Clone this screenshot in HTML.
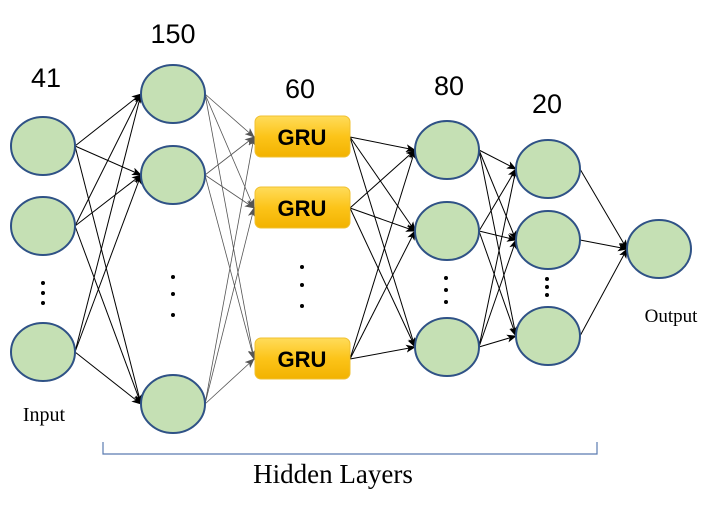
<!DOCTYPE html>
<html><head><meta charset="utf-8"><style>
html,body{margin:0;padding:0;background:#fff;width:720px;height:509px;overflow:hidden}
</style></head><body>
<svg id="s" width="720" height="509" viewBox="0 0 720 509" xmlns="http://www.w3.org/2000/svg">
<defs>
<marker id="ab" markerWidth="10" markerHeight="8" refX="9" refY="4" orient="auto" markerUnits="userSpaceOnUse"><path d="M0,0 L10,4 L0,8 L2.5,4 z" fill="#000"/></marker>
<marker id="ag" markerWidth="10" markerHeight="8" refX="9" refY="4" orient="auto" markerUnits="userSpaceOnUse"><path d="M0,0 L10,4 L0,8 L2.5,4 z" fill="#555"/></marker>
<linearGradient id="gy" x1="0" y1="0" x2="0" y2="1"><stop offset="0" stop-color="#ffdc5a"/><stop offset="0.5" stop-color="#fcc419"/><stop offset="1" stop-color="#f2b200"/></linearGradient>
</defs>
<g id="edges"></g>
<g id="nodes"></g>
<g font-family="'Liberation Sans',sans-serif" font-size="27" fill="#000">
<text x="46" y="87" text-anchor="middle">41</text>
<text x="173" y="43" text-anchor="middle">150</text>
<text x="300" y="98" text-anchor="middle">60</text>
<text x="449" y="95" text-anchor="middle">80</text>
<text x="547" y="113" text-anchor="middle">20</text>
</g>
<g font-family="'Liberation Serif',serif" fill="#000">
<text x="44" y="421" text-anchor="middle" font-size="20">Input</text>
<text x="671" y="322" text-anchor="middle" font-size="19">Output</text>
<text x="333" y="483" text-anchor="middle" font-size="27">Hidden Layers</text>
</g>
<path d="M103,442 L103,454 L597,454 L597,442" fill="none" stroke="#5a7bb0" stroke-width="1.2"/>
<g fill="#000">
<circle cx="43" cy="283" r="2"/><circle cx="43" cy="293" r="2"/><circle cx="43" cy="303" r="2"/>
<circle cx="173" cy="277" r="2"/><circle cx="173" cy="294" r="2"/><circle cx="173" cy="315" r="2"/>
<circle cx="302" cy="267" r="2"/><circle cx="302" cy="285" r="2"/><circle cx="302" cy="306" r="2"/>
<circle cx="446" cy="278" r="2"/><circle cx="446" cy="290" r="2"/><circle cx="446" cy="302" r="2"/>
<circle cx="547" cy="279" r="2"/><circle cx="547" cy="287" r="2"/><circle cx="547" cy="295" r="2"/>
</g>
</svg>
<script>
var NS="http://www.w3.org/2000/svg";
var E=document.getElementById("edges"),N=document.getElementById("nodes");
function el(t,a,p){var e=document.createElementNS(NS,t);for(var k in a)e.setAttribute(k,a[k]);p.appendChild(e);return e;}
var inp=[[43,146],[43,226],[43,352]];
var l1=[[173,94],[173,175],[173,404]];
var gru=[[302,137],[302,208],[302,359]];
var l3=[[447,150],[447,231],[447,347]];
var l4=[[548,169],[548,240],[548,336]];
var out=[[659,249]];
var RX=32;
function conn(A,B,ax,bx,col,mk,w){A.forEach(function(a){B.forEach(function(b){
el("line",{x1:a[0]+ax,y1:a[1],x2:b[0]-bx,y2:b[1],stroke:col,"stroke-width":w,"marker-end":"url(#"+mk+")"},E);});});}
conn(inp,l1,RX,RX,"#000","ab",1);
conn(l1,gru,RX,48,"#555","ag",0.8);
conn(gru,l3,48,RX,"#000","ab",1);
conn(l3,l4,RX,RX,"#000","ab",1);
conn(l4,out,RX,RX,"#000","ab",1);
function circ(L){L.forEach(function(c){el("ellipse",{cx:c[0],cy:c[1],rx:RX,ry:29,fill:"#c5e0b4",stroke:"#2f5286","stroke-width":2},N);});}
[inp,l1,l3,l4,out].forEach(circ);
gru.forEach(function(g){
el("rect",{x:g[0]-47,y:g[1]-21,width:95,height:41,rx:6,fill:"url(#gy)",stroke:"#f0c030","stroke-width":1},N);
var t=el("text",{x:g[0],y:g[1]+8,"text-anchor":"middle","font-family":"'Liberation Sans',sans-serif","font-weight":"bold","font-size":"22",fill:"#000"},N);
t.textContent="GRU";});
</script>
</body></html>
